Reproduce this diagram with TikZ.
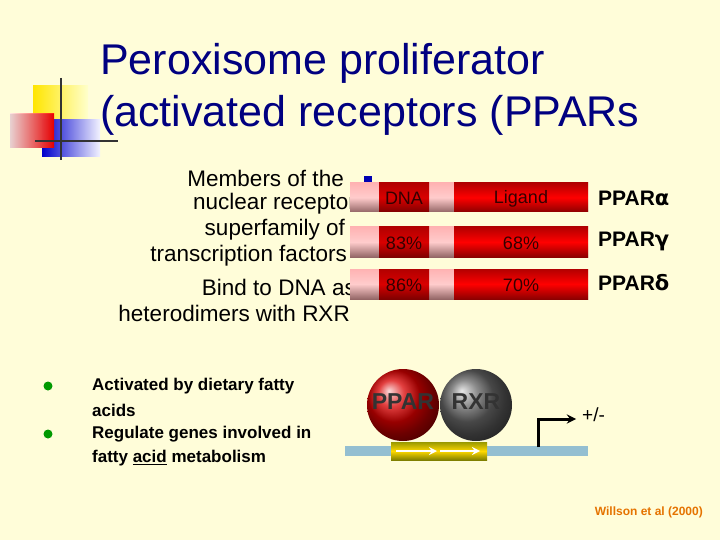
\documentclass[tikz,border=0pt]{standalone}
\usepackage{fontspec}
\setmainfont{Liberation Sans}
\newfontfamily\dvs{DejaVu Sans}
\begin{document}
\begin{tikzpicture}[x=1pt,y=-1pt,
  lefttxt/.style={anchor=east,font=\fontsize{22.5}{24}\selectfont,inner sep=0},
  bul/.style={anchor=west,font=\fontsize{17}{19}\selectfont\bfseries,inner sep=0},
  pl/.style={anchor=west,font=\fontsize{21}{23}\selectfont\bfseries,inner sep=0},
  bartxt/.style={font=\fontsize{18}{19}\selectfont,text=black!80!red,inner sep=0}]
\useasboundingbox (0,0) rectangle (720,540);
\fill[yellow!15!white] (0,0) rectangle (720,540);
% decoration
\fill[left color=yellow!80!orange,right color=yellow!20!white] (33,86) rectangle (88,120);
\fill[left color=blue!80!black,right color=blue!5!white] (42,120) rectangle (100,157);
\fill[right color=red,left color=red!10!white,opacity=0.9] (10,114) rectangle (54,148);
\draw[line width=2pt,black!80] (61,78) -- (61,160);
\draw[line width=2pt,black!80] (35,141) -- (118,141);
% title
\node[anchor=base west,inner sep=0,text=blue!50!black,font=\fontsize{43}{45}\selectfont] (t1) at (100,75) {Peroxisome proliferator};
\node[anchor=base west,inner sep=0,text=blue!50!black,font=\fontsize{43}{45}\selectfont] (t2) at (100,127) {(activated receptors (PPARs};
% left text
\node[lefttxt] (l1) at (344,178) {Members of the};
\node[lefttxt] (l2) at (356,204) {nuclear receptor};
\node[lefttxt] (l3) at (345,230) {superfamily of};
\node[lefttxt] (l4) at (347,256) {transcription factors};
\node[lefttxt] (l5) at (356,287) {Bind to DNA as};
\node[lefttxt] (l6) at (350,313) {heterodimers with RXR};
% bars
\foreach \ya/\yb/\a/\b/\n in {183/212/DNA/Ligand/1, 227/257/83\%/68\%/2, 269/299/86\%/70\%/3}{
  \fill[top color=red!30!white,bottom color=red!30!black!60!white,middle color=pink!80!white] (350,\ya) rectangle (588,\yb);
  \fill[top color=red!70!black,bottom color=red!50!black,middle color=red!85!black] (379,\ya) rectangle (429,\yb);
  \fill[top color=red!70!black,bottom color=red!55!black,middle color=red] (454,\ya) rectangle (588,\yb);
  \node[bartxt] (d\n) at (404,{(\ya+\yb)/2+1}) {\a};
  \node[bartxt] (g\n) at (521,{(\ya+\yb)/2+1}) {\b};
}
\fill[blue!70!black] (364,176) rectangle (372,182);
\node[pl] (pa) at (598,198) {PPAR\dvs\bfseries α};
\node[pl] (pg) at (598,241) {PPAR\dvs\bfseries γ};
\node[pl] (pd) at (598,283) {PPAR\dvs\bfseries δ};
% bullets
\fill[green!60!black] (48,386) circle (4.5);
\fill[green!60!black] (48,434) circle (4.5);
\node[bul] (s1) at (92,386) {Activated by dietary fatty};
\node[bul] (s2) at (92,410) {acids};
\node[bul] (s3) at (92,434) {Regulate genes involved in};
\node[bul] (s4) at (92,458) {fatty \underline{acid} metabolism};
% DNA
\draw[line width=10pt,blue!30!cyan!40!gray!60!white] (345,451) -- (588,451);
\fill[top color=yellow!60!black,bottom color=yellow!50!black,middle color=yellow!70!orange] (391,442) rectangle (487,460);
\draw[white,line width=2.5pt,-stealth] (396,451) -- (437,451);
\draw[white,line width=2.5pt,-stealth] (440,451) -- (480,451);
\coordinate (pr0) at (538,447);
\coordinate (pr1) at (538,419);
\coordinate (pr2) at (576,419);
\draw[line width=3pt,-stealth] (pr0) -- (pr1) -- (pr2);
\node[anchor=west,inner sep=0,font=\fontsize{19}{20}\selectfont] (pm) at (582,415) {+/-};
% spheres
\shade[ball color=red!85!black] (403,405) circle (36);
\shade[ball color=black!60] (476,405) circle (36);
\node[font=\fontsize{23}{24}\selectfont\bfseries,text=black!80] (pp) at (403,402) {PPAR};
\node[font=\fontsize{23}{24}\selectfont\bfseries,text=black!80] (rx) at (476,402) {RXR};
\node[anchor=east,inner sep=0,text=orange!90!black,font=\fontsize{12}{13}\selectfont\bfseries] (cit) at (703,512) {Willson et al (2000)};
\end{tikzpicture}
\end{document}
